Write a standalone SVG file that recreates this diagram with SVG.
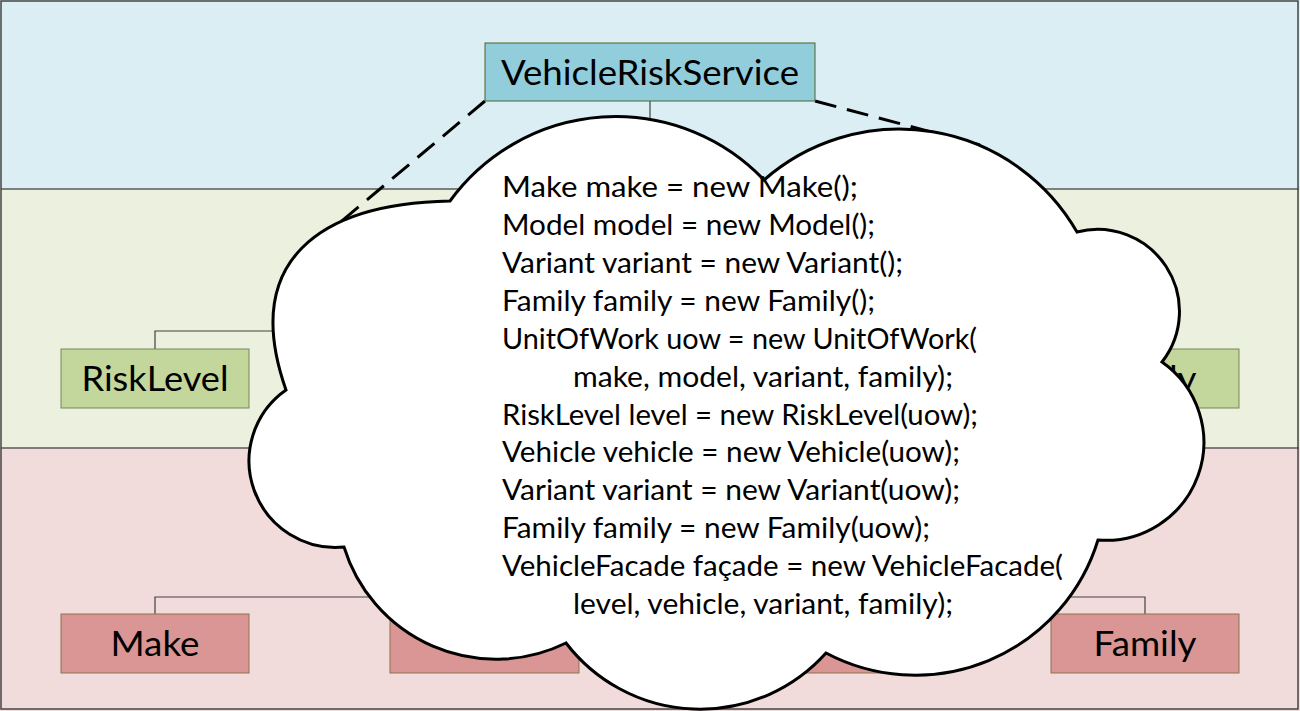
<svg xmlns="http://www.w3.org/2000/svg" width="1300" height="711" viewBox="0 0 1300 711">
  <style>
    .band-line { stroke: #5a5a5a; stroke-width: 1.5; fill: none; }
    .conn { stroke: #404040; stroke-width: 1.2; fill: none; }
    .dash { stroke: #000; stroke-width: 3; fill: none; stroke-dasharray: 22 11; }
    .blue { fill: #92CDDC; stroke: #4F6228; stroke-width: 1; }
    .green { fill: #C3D69B; stroke: #77875A; stroke-width: 1; }
    .red { fill: #D99694; stroke: #8A7350; stroke-width: 1; }
    .label { font-family: Lato, "Open Sans", sans-serif; font-size: 34px; fill: #000; text-anchor: middle; }
    .code { font-family: Lato, "Open Sans", sans-serif; font-size: 28.5px; fill: #000; }
    .cloud { fill: #fff; stroke: #000; stroke-width: 3; stroke-linejoin: miter; }
  </style>

  <g id="layers">
    <rect x="0" y="0" width="1300" height="189" fill="#DAEEF3"/>
    <rect x="0" y="189" width="1300" height="259" fill="#EBF1DE"/>
    <rect x="0" y="448" width="1300" height="263" fill="#F2DCDB"/>
    <line class="band-line" x1="1" y1="189" x2="1299" y2="189"/>
    <line class="band-line" x1="1" y1="448" x2="1299" y2="448"/>
    <rect x="1" y="1" width="1297" height="708" fill="none" stroke="#444" stroke-width="1.5"/>
  </g>

  <g id="connectors">
    <line class="conn" x1="650" y1="101" x2="650" y2="140"/>
    <polyline class="conn" points="155,349 155,331 1145,331 1145,349"/>
    <polyline class="conn" points="155,614 155,597 1145,597 1145,614"/>
    <line class="dash" x1="485" y1="101" x2="300" y2="256"/>
    <line class="dash" x1="815" y1="101" x2="980" y2="145"/>
  </g>

  <g id="node-VehicleRiskService">
    <rect class="blue" x="485" y="43" width="330" height="58"/>
    <text class="label" x="650" y="84.5" textLength="298" lengthAdjust="spacingAndGlyphs">VehicleRiskService</text>
  </g>
  <g id="node-RiskLevel">
    <rect class="green" x="61" y="349" width="188" height="59"/>
    <text class="label" x="155" y="391" textLength="147" lengthAdjust="spacingAndGlyphs">RiskLevel</text>
  </g>
  <g id="node-Family-business">
    <rect class="green" x="1051" y="349" width="188" height="59"/>
    <text class="label" x="1145" y="391" textLength="103" lengthAdjust="spacingAndGlyphs">Family</text>
  </g>
  <g id="node-Make">
    <rect class="red" x="61" y="614" width="188" height="59"/>
    <text class="label" x="155" y="656" textLength="89" lengthAdjust="spacingAndGlyphs">Make</text>
  </g>
  <g id="node-Model">
    <rect class="red" x="390" y="614" width="189" height="59"/>
  </g>
  <g id="node-Variant">
    <rect class="red" x="720" y="614" width="189" height="59"/>
  </g>
  <g id="node-Family-data">
    <rect class="red" x="1051" y="614" width="188" height="59"/>
    <text class="label" x="1145" y="656" textLength="103" lengthAdjust="spacingAndGlyphs">Family</text>
  </g>

  <g id="cloud">
    <path class="cloud" d="M 450,201 A 205,205 0 0 1 764,180 A 205,205 0 0 1 1077,232 A 82,82 0 0 1 1162,362 A 98,98 0 0 1 1098,540 A 191,191 0 0 1 826,653 A 169,169 0 0 1 566,643 A 159,159 0 0 1 344,547 A 86.5,86.5 0 0 1 286,390 C 240.5,260 320,203.6 450,201 Z"/>
    <g class="code">
      <text x="502" y="197" textLength="356" lengthAdjust="spacingAndGlyphs">Make make = new Make();</text>
      <text x="502" y="235" textLength="373" lengthAdjust="spacingAndGlyphs">Model model = new Model();</text>
      <text x="502" y="273" textLength="401" lengthAdjust="spacingAndGlyphs">Variant variant = new Variant();</text>
      <text x="502" y="311" textLength="373" lengthAdjust="spacingAndGlyphs">Family family = new Family();</text>
      <text x="502" y="349" textLength="475" lengthAdjust="spacingAndGlyphs">UnitOfWork uow = new UnitOfWork(</text>
      <text x="573" y="387" textLength="380" lengthAdjust="spacingAndGlyphs">make, model, variant, family);</text>
      <text x="502" y="425" textLength="476" lengthAdjust="spacingAndGlyphs">RiskLevel level = new RiskLevel(uow);</text>
      <text x="502" y="462" textLength="458" lengthAdjust="spacingAndGlyphs">Vehicle vehicle = new Vehicle(uow);</text>
      <text x="502" y="500" textLength="458" lengthAdjust="spacingAndGlyphs">Variant variant = new Variant(uow);</text>
      <text x="502" y="538" textLength="428" lengthAdjust="spacingAndGlyphs">Family family = new Family(uow);</text>
      <text x="502" y="576" textLength="561" lengthAdjust="spacingAndGlyphs">VehicleFacade façade = new VehicleFacade(</text>
      <text x="573" y="614" textLength="380" lengthAdjust="spacingAndGlyphs">level, vehicle, variant, family);</text>
    </g>
  </g>
</svg>
